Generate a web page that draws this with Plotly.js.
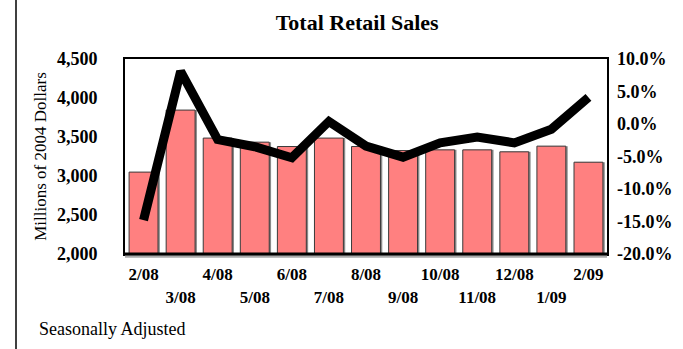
<!DOCTYPE html>
<html>
<head>
<meta charset="utf-8">
<script src="https://cdn.plot.ly/plotly-3.0.1.min.js"></script>
<style>html,body{margin:0;padding:0;background:#fff;}#chart{width:683px;height:349px;}</style>
</head>
<body>
<div id="chart"></div>
<script>
const months = ["2/08","3/08","4/08","5/08","6/08","7/08","8/08","9/08","10/08","11/08","12/08","1/09","2/09"];
const salesMillions = [3050, 3845, 3486, 3434, 3378, 3486, 3378, 3326, 3335, 3335, 3310, 3383, 3177];
const pctChange = [-14.8, 8.1, -2.4, -3.5, -5.2, 0.4, -3.4, -5.1, -2.9, -2.0, -2.9, -0.8, 4.1];
const leftTicks = [2000, 2500, 3000, 3500, 4000, 4500];
const leftTickText = ["2,000","2,500","3,000","3,500","4,000","4,500"];
const rightTicks = [-20, -15, -10, -5, 0, 5, 10];
const rightTickText = ["-20.0%","-15.0%","-10.0%","-5.0%","0.0%","5.0%","10.0%"];

const xIdx = months.map((m, i) => i);
const xText = months.map((m, i) => i % 2 === 0 ? m : "<br>" + m);

const serif = "Liberation Serif, Times New Roman, serif";

const shadow = {
  type: "bar", x: xIdx.map(v => v + 0.05), y: salesMillions.map(v => v - 2000), base: 2000,
  marker: {color: "#8a8a8a", line: {width: 0}}, hoverinfo: "skip", showlegend: false
};
const bars = {
  type: "bar", x: xIdx, y: salesMillions.map(v => v - 2000), base: 2000,
  marker: {color: "#FF8080", line: {color: "#3a3a3a", width: 1}},
  showlegend: false, name: "Sales"
};
const line = {
  type: "scatter", mode: "lines", x: xIdx, y: pctChange, yaxis: "y2",
  line: {color: "#000", width: 9}, showlegend: false, name: "% change"
};

const layout = {
  width: 683, height: 349,
  margin: {l: 125, r: 76, t: 59, b: 95},
  paper_bgcolor: "#fff", plot_bgcolor: "#fff",
  barmode: "overlay", bargap: 0.22,
  title: {text: "<b>Total Retail Sales</b>", font: {family: serif, size: 22, color: "#000"}, x: 0.523, xanchor: "center", y: 0.935, yanchor: "middle"},
  font: {family: serif, color: "#000"},
  xaxis: {
    range: [-0.5, 12.5], tickvals: xIdx, ticktext: xText, tickangle: 0, automargin: false,
    tickfont: {family: serif, size: 17, color: "#000", weight: "bold"},
    showgrid: false, zeroline: false, showline: true, linecolor: "#000", linewidth: 2, mirror: true,
    ticks: "", ticklabelstandoff: 4, fixedrange: true
  },
  yaxis: {
    range: [2000, 4500], tickvals: leftTicks, ticktext: leftTickText, automargin: false,
    tickfont: {family: serif, size: 18, color: "#000", weight: "bold"},
    showgrid: false, zeroline: false, showline: true, linecolor: "#000", linewidth: 2, mirror: true,
    ticks: "", ticklabelstandoff: 22,
    title: {text: "Millions of 2004 Dollars", font: {family: serif, size: 17, color: "#000"}, standoff: 6}
  },
  yaxis2: {
    overlaying: "y", side: "right", range: [-20, 10], tickvals: rightTicks, ticktext: rightTickText, automargin: false,
    tickfont: {family: serif, size: 18, color: "#000", weight: "bold"},
    showgrid: false, zeroline: false, showline: false, ticks: "", ticklabelstandoff: 9
  },
  shapes: [
    {type: "line", xref: "paper", yref: "paper", x0: 0, x1: 1, y0: -0.012, y1: -0.012, line: {color: "#aaa", width: 3}},
    {type: "line", xref: "paper", yref: "paper", x0: 0, x1: 1, y0: 0, y1: 0, line: {color: "#000", width: 3}},
    {type: "line", xref: "paper", yref: "paper", x0: (16 - 125) / 482, x1: (16 - 125) / 482, y0: -95 / 195, y1: 1 + 59 / 195, line: {color: "#000", width: 1.5}}
  ],
  annotations: [
    {text: "Seasonally Adjusted", xref: "paper", yref: "paper", x: (37 - 125) / 482, y: -(329 - 254) / 195, xanchor: "left", yanchor: "middle", showarrow: false, font: {family: serif, size: 18, color: "#000"}}
  ]
};

Plotly.newPlot("chart", [shadow, bars, line], layout, {displayModeBar: false, staticPlot: true});
</script>
</body>
</html>
